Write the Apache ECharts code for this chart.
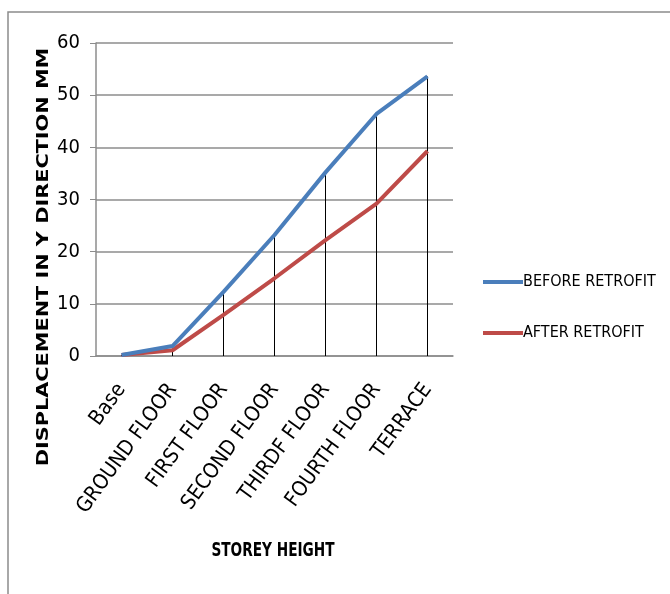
<!DOCTYPE html>
<html>
<head>
<meta charset="utf-8">
<script src="https://cdn.jsdelivr.net/npm/echarts@6/dist/echarts.min.js"></script>
<style>
  html, body { margin: 0; padding: 0; background: #fff; }
  #chart { width: 670px; height: 594px; }
</style>
</head>
<body>
<div id="chart"></div>
<script>
// Storey-wise displacement in Y direction (mm)
var storeys = ['Base', 'GROUND FLOOR', 'FIRST FLOOR', 'SECOND FLOOR', 'THIRDF FLOOR', 'FOURTH FLOOR', 'TERRACE'];
var beforeRetrofit = [0.2, 1.9, 12.3, 23.2, 35.2, 46.4, 53.6];
var afterRetrofit = [0.2, 1.1, 7.9, 14.9, 22.2, 29.2, 39.3];
var yTicks = { min: 0, max: 60, interval: 10 };

// drop lines run from the higher curve down to the category axis
var dropLines = beforeRetrofit.map(function (v, i) { return Math.max(v, afterRetrofit[i]); });

var narrow = '"DejaVu Sans Condensed", "Liberation Sans Narrow", "Roboto", sans-serif';

var chart = echarts.init(document.getElementById('chart'), null, { renderer: 'canvas' });
chart.setOption({
  animation: false,
  backgroundColor: '#fff',
  graphic: [{
    type: 'rect',
    shape: { x: 8, y: 12, width: 700, height: 620 },
    style: { fill: 'none', stroke: '#8c8c8c', lineWidth: 1.5 },
    silent: true
  }, {
    // vertical axis title, stretched along its reading direction
    type: 'text',
    x: 44, y: 257,
    rotation: Math.PI / 2,
    scaleX: 1.3,
    style: {
      text: 'DISPLACEMENT IN Y DIRECTION MM',
      font: 'bold 16px "DejaVu Sans", sans-serif',
      fill: '#000',
      align: 'center',
      verticalAlign: 'middle'
    },
    silent: true
  }, {
    // horizontal axis title
    type: 'text',
    x: 273, y: 551,
    scaleX: 0.76,
    style: {
      text: 'STOREY HEIGHT',
      font: 'bold 20px "DejaVu Sans Condensed", "DejaVu Sans", sans-serif',
      fill: '#000',
      align: 'center',
      verticalAlign: 'middle'
    },
    silent: true
  }],
  grid: { left: 96, top: 43, width: 357, height: 313, containLabel: false },
  legend: {
    orient: 'vertical',
    left: 478, top: 269,
    itemWidth: 40, itemHeight: 4,
    itemGap: 35,
    icon: 'rect',
    data: ['BEFORE RETROFIT', 'AFTER RETROFIT'],
    textStyle: { fontFamily: narrow, fontSize: 16, color: '#000', padding: [0, 0, 0, -5] }
  },
  xAxis: {
    type: 'category',
    data: storeys,
    boundaryGap: true,
    axisLine: { lineStyle: { color: '#8c8c8c', width: 1.5 } },
    axisTick: { show: false },
    axisLabel: {
      rotate: 54,
      interval: 0,
      margin: 30,
      fontFamily: narrow,
      fontSize: 21,
      color: '#000'
    }
  },
  yAxis: {
    type: 'value',
    min: yTicks.min, max: yTicks.max, interval: yTicks.interval,
    axisLine: { show: true, lineStyle: { color: '#8c8c8c', width: 1.5 } },
    axisTick: { show: true, length: 6, lineStyle: { color: '#8c8c8c' } },
    splitLine: { lineStyle: { color: '#8c8c8c', width: 1.5 } },
    axisLabel: { fontFamily: narrow, fontSize: 20, color: '#000', margin: 16 }
  },
  series: [{
    name: 'drop',
    type: 'bar',
    data: dropLines,
    barWidth: 1,
    itemStyle: { color: '#000' },
    silent: true,
    z: 1
  }, {
    name: 'BEFORE RETROFIT',
    type: 'line',
    data: beforeRetrofit,
    symbol: 'none',
    lineStyle: { width: 4, color: '#4a7ebb' },
    itemStyle: { color: '#4a7ebb' },
    z: 3
  }, {
    name: 'AFTER RETROFIT',
    type: 'line',
    data: afterRetrofit,
    symbol: 'none',
    lineStyle: { width: 4, color: '#be4b48' },
    itemStyle: { color: '#be4b48' },
    z: 2
  }]
});
</script>
</body>
</html>
